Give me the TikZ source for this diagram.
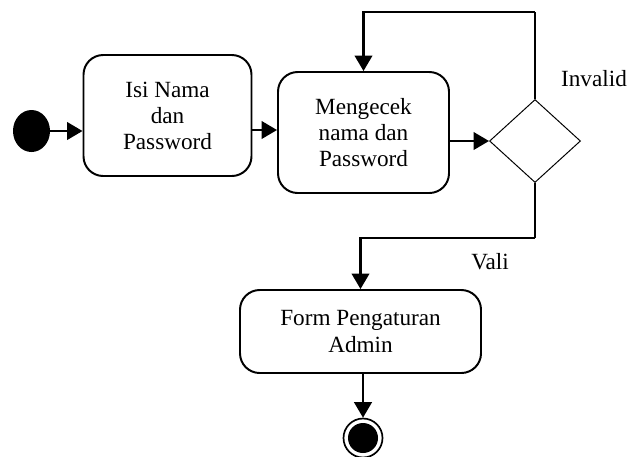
\documentclass[tikz,border=0pt]{standalone}
\usepackage{fontspec}
\setmainfont{Liberation Serif}
\usetikzlibrary{shapes.geometric,arrows.meta}

\tikzstyle{act}=[draw,line width=1.4pt,rounded corners=14pt,align=center,inner sep=0pt]
\tikzstyle{flow}=[line width=1.6pt,-{Triangle[length=11pt,width=12.5pt]}]
\tikzstyle{line}=[line width=1.4pt]
\def\px{0.025}

\begin{document}
\begin{tikzpicture}[x=\px cm,y=-\px cm,font=\fontsize{16.5}{18.5}\selectfont]
			\useasboundingbox (0,0) rectangle (628,456);
			% start and end
			\node[ellipse,fill=black,minimum width=37*\px cm,minimum height=42*\px cm,inner sep=0pt] (start) at (31.5,131) {};
			\node[circle,draw,line width=1.2pt,minimum size=39*\px cm,inner sep=0pt] (end) at (363,438) {};
			\fill (end.center) circle(15);
			% activities
			\node[act,minimum width=168*\px cm,minimum height=121*\px cm] (isi) at (167.5,115.5) {Isi Nama\\dan\\Password};
			\node[act,minimum width=171*\px cm,minimum height=121*\px cm] (cek) at (363.5,132.5) {Mengecek\\nama dan\\Password};
			\node[act,minimum width=241*\px cm,minimum height=83*\px cm] (form) at (360.5,331.5) {Form Pengaturan\\Admin};
			\node[diamond,draw,line width=0.7pt,minimum width=91*\px cm,minimum height=83*\px cm,inner sep=0pt] (dec) at (535,141) {};
			% bends
			\coordinate (looptop) at (dec.north |- 0,12);
			\coordinate (valbend) at (dec.south |- 0,238);
			% connectors
			\draw[flow] (start.east) -- (isi.west |- start.east);
			\draw[flow] (isi.east |- 0,130) -- (cek.west |- 0,130);
			\draw[flow] (cek.east |- dec.west) -- (dec.west);
			\draw[line] (dec.north) -- (looptop);
			\draw[flow] (looptop) -| (cek.north);
			\draw[line] (dec.south) -- (valbend);
			\draw[flow] (valbend) -| (form.north);
			\draw[flow] (end.north |- form.south) -- (end.north);
			% labels
			\node (inv) at (594,79) {Invalid};
			\node (val) at (490,262) {Vali};
		\end{tikzpicture}
\end{document}
